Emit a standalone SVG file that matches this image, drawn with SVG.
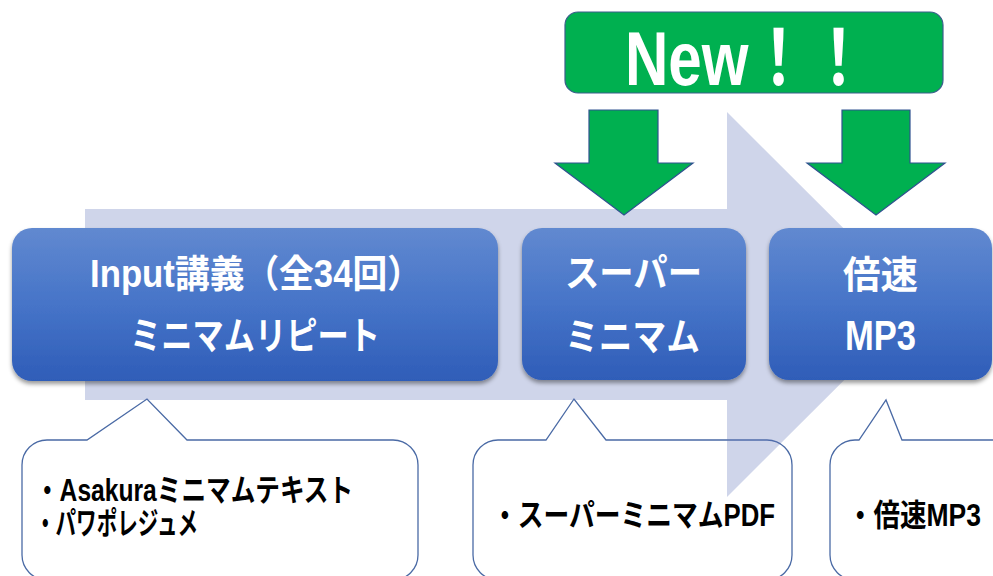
<svg xmlns="http://www.w3.org/2000/svg" width="993" height="576" viewBox="0 0 993 576">
  <defs>
    <linearGradient id="blueGrad" x1="0" y1="0" x2="0" y2="1">
      <stop offset="0" stop-color="#6189D0"/>
      <stop offset="0.5" stop-color="#4674C8"/>
      <stop offset="1" stop-color="#2F5DB8"/>
    </linearGradient>
    <filter id="shadow" x="-10%" y="-10%" width="120%" height="130%">
      <feDropShadow dx="0" dy="3" stdDeviation="2" flood-color="#000" flood-opacity="0.4"/>
    </filter>
  </defs>
  <style>
    .bubble { fill: #FFFFFF; stroke: #4A6AA5; stroke-width: 1.3; }
    .node { fill: url(#blueGrad); filter: url(#shadow); }
    .ntext { fill: #FFFFFF; font-family: "Liberation Sans", "Noto Sans CJK JP", sans-serif; font-weight: bold; font-size: 38px; }
    .btext { fill: #000000; font-family: "Liberation Sans", "Noto Sans CJK JP", sans-serif; font-weight: bold; font-size: 31px; }
    .garrow { fill: #00B050; stroke: #2F528F; stroke-width: 1.2; }
  </style>
  <rect width="993" height="576" fill="#FFFFFF"/>

  <!-- callout bubbles -->
  <g id="bubble1">
    <path class="bubble" d="M47,440 L87,440 L147,399 L187,440 L393,440 A25,25 0 0 1 418,465 L418,555 A25,25 0 0 1 393,580 L47,580 A25,25 0 0 1 22,555 L22,465 A25,25 0 0 1 47,440 Z"/>
    <text class="btext" x="35" y="501" textLength="318" lengthAdjust="spacingAndGlyphs">・Asakuraミニマムテキスト</text>
    <text class="btext" x="35" y="534" textLength="163" lengthAdjust="spacingAndGlyphs">・パワポレジュメ</text>
  </g>
  <g id="bubble2">
    <path class="bubble" d="M498,440 L546,440 L574,399 L606,440 L767,440 A25,25 0 0 1 792,465 L792,555 A25,25 0 0 1 767,580 L498,580 A25,25 0 0 1 473,555 L473,465 A25,25 0 0 1 498,440 Z"/>
  </g>
  <g id="bubble3">
    <path class="bubble" d="M855,440 L859,440 L886,400 L902,440 L995,440 A25,25 0 0 1 1020,465 L1020,555 A25,25 0 0 1 995,580 L855,580 A25,25 0 0 1 830,555 L830,465 A25,25 0 0 1 855,440 Z"/>
    <text class="btext" x="847" y="526" textLength="134" lengthAdjust="spacingAndGlyphs">・倍速MP3</text>
  </g>

  <!-- big background arrow -->
  <g id="flow-arrow">
    <polygon points="85,209 727,209 727,112 920,304.5 727,497 727,400 85,400" fill="#5F73B9" fill-opacity="0.3"/>
  </g>
  <text class="btext" x="492" y="526" textLength="283" lengthAdjust="spacingAndGlyphs">・スーパーミニマムPDF</text>

  <!-- connectors: green arrows -->
  <g id="connectors">
    <polygon class="garrow" points="589,110 658,110 658,163 693,163 624,215 555,163 589,163"/>
    <polygon class="garrow" points="842,110 910,110 910,163 945,163 876,215 807,163 842,163"/>
  </g>

  <!-- New!! box -->
  <g id="new">
    <rect x="565" y="12" width="378" height="81" rx="13" ry="13" fill="#00B050" stroke="#3B5E8C" stroke-width="1.2"/>
    <text transform="translate(625,85) scale(0.79,1)" x="0" y="0" fill="#FFFFFF" font-family="Liberation Sans, Noto Sans CJK JP, sans-serif" font-weight="bold" font-size="76">New！！</text>
  </g>

  <!-- nodes -->
  <g id="node1">
    <rect class="node" x="12" y="228" width="486" height="153" rx="20" ry="20"/>
    <text class="ntext" x="90" y="287" textLength="332" lengthAdjust="spacingAndGlyphs">Input講義（全34回）</text>
    <text class="ntext" x="130" y="349" textLength="250" lengthAdjust="spacingAndGlyphs">ミニマムリピート</text>
  </g>
  <g id="node2">
    <rect class="node" x="522" y="228" width="224" height="152" rx="20" ry="20"/>
    <text class="ntext" x="565" y="286" textLength="137" lengthAdjust="spacingAndGlyphs">スーパー</text>
    <text class="ntext" x="565" y="350" textLength="135" lengthAdjust="spacingAndGlyphs">ミニマム</text>
  </g>
  <g id="node3">
    <rect class="node" x="769" y="228" width="223" height="152" rx="20" ry="20"/>
    <text class="ntext" x="843" y="288" textLength="75" lengthAdjust="spacingAndGlyphs">倍速</text>
    <text class="ntext" x="845" y="350" textLength="71" lengthAdjust="spacingAndGlyphs" style="font-size:42px">MP3</text>
  </g>
</svg>
